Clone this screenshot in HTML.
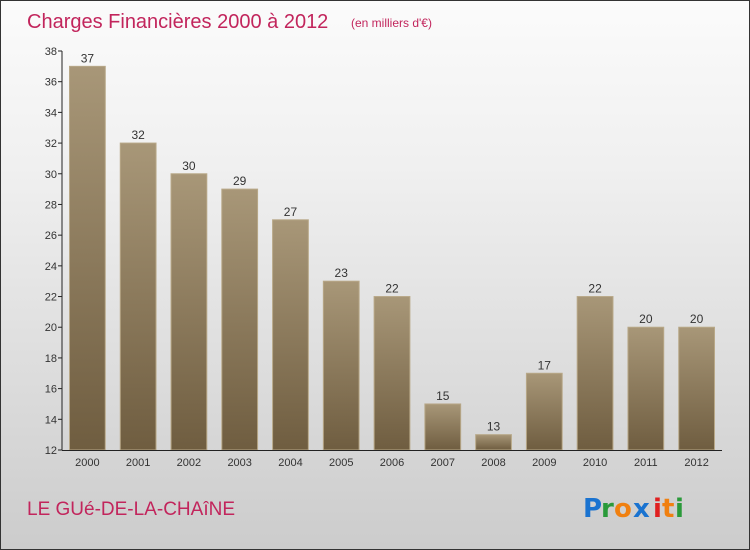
<!DOCTYPE html>
<html><head><meta charset="utf-8"><style>
body{margin:0}
#c{position:relative;width:748px;height:548px;border:1px solid #333;background:linear-gradient(#fbfbfb,#f0f0f0 30%,#cccccc);overflow:hidden;font-family:"Liberation Sans","DejaVu Sans",sans-serif}
</style></head><body>
<div id="c">
<svg width="748" height="548" id="svg">
<defs><linearGradient id="bg" x1="0" y1="0" x2="0" y2="1"><stop offset="0" stop-color="#a89778"/><stop offset="1" stop-color="#6f5d40"/></linearGradient></defs>
<text x="26" y="27" font-size="20" fill="#c2255c">Charges Financières 2000 à 2012</text>
<text x="350" y="26" font-size="12" fill="#c2255c">(en milliers d'€)</text>
<text x="26" y="514" font-size="19" fill="#c2255c">LE GUé-DE-LA-CHAîNE</text>
<g font-size="26" font-weight="bold" font-family="'DejaVu Sans',sans-serif">
<text x="582" y="516" fill="#1a73d0">P</text><text x="600" y="516" fill="#2a9a3a">r</text><text x="613" y="516" fill="#f08010">o</text><text x="632" y="516" fill="#1a73d0">x</text><text x="652" y="516" fill="#e02020">i</text><text x="661" y="516" fill="#f08010">t</text><text x="674" y="516" fill="#2a9a3a">i</text></g>
<g id="plot"></g>
</svg>
<script>
const categories=["2000","2001","2002","2003","2004","2005","2006","2007","2008","2009","2010","2011","2012"];
const values=[37,32,30,29,27,23,22,15,13,17,22,20,20];
const yTicks=[12,14,16,18,20,22,24,26,28,30,32,34,36,38];
const X0=61,X1=721,Y0=449,Y1=50,YMIN=12,YMAX=38;
const ns="http://www.w3.org/2000/svg",g=document.getElementById('plot');
const y=v=>Y0-(v-YMIN)/(YMAX-YMIN)*(Y0-Y1);
const bw=(X1-X0)/categories.length;
const x=i=>X0+bw*i;
function mk(t,a,txt){const e=document.createElementNS(ns,t);for(const k in a)e.setAttribute(k,a[k]);if(txt!=null)e.textContent=txt;g.appendChild(e);return e;}
yTicks.forEach(v=>{
const l=mk('line',{x1:X0-4,x2:X0,y1:y(v),y2:y(v),stroke:'#222'});


const t=mk('text',{x:X0-5,y:y(v)+4,'font-size':11,'text-anchor':'end',fill:'#333'},v);


});
values.forEach((v,i)=>{
const r=mk('rect',{x:x(i)+7.5,y:y(v),width:bw-15,height:Y0-y(v),fill:'url(#bg)',stroke:'#b8a888','stroke-width':1});


const t=mk('text',{x:x(i)+bw/2,y:y(v)-4,'font-size':12,'text-anchor':'middle',fill:'#333'},v);


const c=mk('text',{x:x(i)+bw/2,y:Y0+16,'font-size':11,'text-anchor':'middle',fill:'#333'},categories[i]);


});
const ya=mk('line',{x1:X0,x2:X0,y1:Y1,y2:Y0,stroke:'#222'});


const xa=mk('line',{x1:X0,x2:X1,y1:Y0+0.5,y2:Y0+0.5,stroke:'#222'});


</script>
</div>
</body></html>
